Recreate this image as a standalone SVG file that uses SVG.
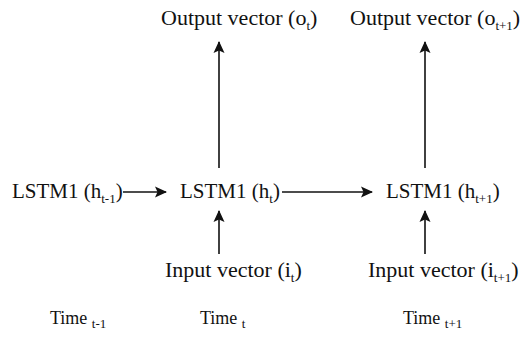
<svg xmlns="http://www.w3.org/2000/svg" width="522" height="338" viewBox="0 0 522 338">
<style>
text{font-family:"Liberation Serif","Times New Roman",serif;font-size:21px;fill:#111}
.o{font-size:22px}
.i{font-size:22px}
.s{font-size:13px}
.tm{font-size:18px}
.ts{font-size:13px}
.c line{stroke:#111;stroke-width:1.6;fill:none}
</style>
<defs>
<marker id="ah" markerWidth="12" markerHeight="12" refX="11" refY="6" orient="auto" markerUnits="userSpaceOnUse" viewBox="0 0 12 12">
<path d="M0,0.5 L12,6 L0,11.5 L2.5,6 Z" fill="#111"/>
</marker>
</defs>
<rect width="522" height="338" fill="#fff"/>
<g id="out_t"><text class="o" x="161" y="25">Output vector (o<tspan class="s" dy="5">t</tspan><tspan dy="-5">)</tspan></text></g>
<g id="out_t1"><text class="o" x="350" y="25">Output vector (o<tspan class="s" dy="5">t+1</tspan><tspan dy="-5">)</tspan></text></g>
<g id="lstm_tm1"><text x="12" y="198">LSTM1 (h<tspan class="s" dy="5">t-1</tspan><tspan dy="-5">)</tspan></text></g>
<g id="lstm_t"><text x="180" y="198">LSTM1 (h<tspan class="s" dy="5">t</tspan><tspan dy="-5">)</tspan></text></g>
<g id="lstm_t1"><text x="386" y="198">LSTM1 (h<tspan class="s" dy="5">t+1</tspan><tspan dy="-5">)</tspan></text></g>
<g id="in_t"><text class="i" x="165" y="277">Input vector (i<tspan class="s" dy="5">t</tspan><tspan dy="-5">)</tspan></text></g>
<g id="in_t1"><text class="i" x="368" y="277">Input vector (i<tspan class="s" dy="5">t+1</tspan><tspan dy="-5">)</tspan></text></g>
<g id="time_tm1"><text class="tm" x="50" y="324">Time <tspan class="ts" dy="4">t-1</tspan></text></g>
<g id="time_t"><text class="tm" x="200" y="324">Time <tspan class="ts" dy="4">t</tspan></text></g>
<g id="time_t1"><text class="tm" x="403" y="324">Time <tspan class="ts" dy="4">t+1</tspan></text></g>
<g id="connectors" class="c">
<line x1="219" y1="168" x2="219" y2="42" marker-end="url(#ah)"/>
<line x1="425" y1="168" x2="425" y2="42" marker-end="url(#ah)"/>
<line x1="123" y1="192" x2="166" y2="192" marker-end="url(#ah)"/>
<line x1="282" y1="192" x2="372" y2="192" marker-end="url(#ah)"/>
<line x1="219" y1="254" x2="219" y2="211" marker-end="url(#ah)"/>
<line x1="425" y1="254" x2="425" y2="211" marker-end="url(#ah)"/>
</g>
</svg>
